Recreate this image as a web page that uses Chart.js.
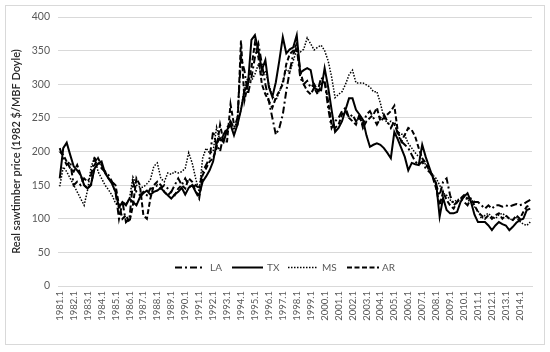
<!DOCTYPE html>
<html>
<head>
<meta charset="utf-8">
<script src="https://cdn.jsdelivr.net/npm/chart.js@4.4.1/dist/chart.umd.min.js"></script>
<style>
html,body{margin:0;padding:0;background:#fff;}
#wrap{position:relative;width:550px;height:352px;}
</style>
</head>
<body>
<div id="wrap"><canvas id="c" width="550" height="352"></canvas></div>
<script>
// Quarterly categories 1981.1 .. 2014.4
const years = [];
for (let y = 1981; y <= 2014; y++) years.push(y);
const categories = [];
years.forEach(y => { for (let q = 1; q <= 4; q++) categories.push(y + '.' + q); });

const yTicks = [0, 50, 100, 150, 200, 250, 300, 350, 400];

const LA = [
 205,190,180,185, 150,155,150,160, 155,165,190,185, 175,170,165,155,
 140,100,125,95, 100,155,140,135, 140,135,145,145, 150,145,150,145,
 140,150,160,150, 160,150,145,150, 145,170,180,190, 230,210,200,225,
 235,245,235,250, 340,320,285,310, 340,360,330,300, 275,250,225,235,
 255,290,320,345, 355,310,300,305, 295,300,290,310, 305,265,235,245,
 250,260,265,250, 255,245,250,240, 255,260,250,240, 250,255,245,235,
 245,225,215,210, 205,195,185,180, 185,175,170,165, 150,135,155,160,
 135,120,125,130, 125,120,130,125, 125,120,115,120, 115,120,120,118,
 120,118,120,122, 120,122,125,128
];
const TX = [
 160,205,213,195, 178,172,165,150, 145,152,175,182, 185,168,160,152,
 140,117,125,120, 130,125,120,132, 138,142,136,140, 142,146,140,135,
 130,136,140,146, 136,146,150,140, 135,155,163,172, 185,212,220,214,
 232,240,224,240, 262,290,300,366, 373,350,321,336, 296,281,303,335,
 370,346,352,355, 373,317,321,324, 321,294,292,291, 324,296,262,229,
 235,245,262,279, 279,262,255,247, 224,207,210,212, 210,205,198,190,
 229,218,205,192, 172,183,181,180, 210,192,177,162, 153,103,131,113,
 108,108,110,125, 133,138,125,106, 95,95,95,90, 83,90,95,92,
 90,83,88,94, 98,100,113,115
];
const MS = [
 148,177,170,160, 150,140,130,120, 143,177,192,170, 160,150,143,135,
 123,118,125,122, 130,162,150,147, 147,152,158,178, 183,160,155,168,
 166,170,168,170, 175,198,183,160, 140,190,205,198, 200,236,215,225,
 230,245,232,242, 262,295,310,305, 315,330,312,320, 300,282,276,288,
 305,322,318,335, 351,348,352,369, 360,351,355,358, 350,335,311,280,
 285,289,300,314, 321,302,302,302, 299,296,289,289, 272,250,242,245,
 240,229,226,224, 212,205,198,192, 190,180,172,165, 160,150,138,135,
 128,125,128,130, 132,128,125,118, 112,100,105,108, 103,100,106,108,
 104,100,98,102, 96,92,90,95
];
const AR = [
 200,195,185,175, 170,180,165,150, 145,150,180,190, 180,170,160,155,
 150,120,100,105, 95,120,160,150, 105,100,130,150, 155,150,140,135,
 140,135,145,150, 145,160,155,140, 130,165,175,185, 190,205,240,215,
 215,270,240,240, 365,276,300,325, 361,340,300,285, 275,265,280,290,
 300,330,345,350, 360,320,300,290, 285,295,285,300, 305,275,240,235,
 240,255,260,250, 245,240,255,235, 245,250,255,265, 245,250,255,260,
 268,230,215,225, 235,232,222,205, 190,183,172,162, 145,120,140,128,
 120,115,125,130, 135,130,130,120, 110,105,100,105, 100,105,108,100,
 105,100,98,105, 100,110,118,120
];

const seriesNames = ['LA', 'TX', 'MS', 'AR'];
const FONT = 'Lato, "Liberation Sans", sans-serif';
const GRAY = '#595959';

const frame = {
  id: 'frame',
  beforeDraw(chart) {
    const ctx = chart.ctx;
    ctx.save();
    ctx.fillStyle = '#fff';
    ctx.fillRect(0, 0, chart.width, chart.height);
    ctx.strokeStyle = '#d9d9d9';
    ctx.lineWidth = 1;
    ctx.strokeRect(5.5, 5.5, 539, 339);
    ctx.restore();
  }
};

const innerLegend = {
  id: 'innerLegend',
  afterDatasetsDraw(chart) {
    const ctx = chart.ctx;
    const y = 267.5;
    const items = [
      {x0: 175, x1: 203, tx: 210},
      {x0: 232, x1: 263, tx: 267},
      {x0: 288, x1: 318, tx: 322},
      {x0: 347, x1: 379, tx: 382}
    ];
    ctx.save();
    ctx.fillStyle = '#fff';
    ctx.fillRect(170, 259, 228, 17);
    chart.data.datasets.forEach((ds, i) => {
      const it = items[i];
      ctx.strokeStyle = ds.borderColor;
      ctx.lineWidth = ds.borderWidth;
      ctx.setLineDash(ds.borderDash || []);
      ctx.beginPath();
      ctx.moveTo(it.x0, y);
      ctx.lineTo(it.x1, y);
      ctx.stroke();
      ctx.setLineDash([]);
      ctx.fillStyle = GRAY;
      ctx.font = '10px ' + FONT;
      ctx.textBaseline = 'middle';
      ctx.textAlign = 'left';
      ctx.fillText(ds.label, it.tx, y);
    });
    ctx.restore();
  }
};

new Chart(document.getElementById('c'), {
  type: 'line',
  data: {
    labels: categories,
    datasets: [
      {label: seriesNames[0], data: LA, borderColor: '#000', borderWidth: 2, borderDash: [7, 3, 2, 3], pointRadius: 0, fill: false, tension: 0},
      {label: seriesNames[1], data: TX, borderColor: '#000', borderWidth: 2, borderDash: [], pointRadius: 0, fill: false, tension: 0},
      {label: seriesNames[2], data: MS, borderColor: '#000', borderWidth: 1.5, borderDash: [1.5, 1.5], pointRadius: 0, fill: false, tension: 0},
      {label: seriesNames[3], data: AR, borderColor: '#000', borderWidth: 2, borderDash: [5, 2.5], pointRadius: 0, fill: false, tension: 0}
    ]
  },
  options: {
    responsive: false,
    animation: false,
    devicePixelRatio: 1,
    layout: {padding: {left: 10, right: 18, top: 17, bottom: 0}},
    plugins: {legend: {display: false}, tooltip: {enabled: false}},
    scales: {
      x: {
        type: 'category',
        offset: true,
        grid: {display: false, drawTicks: false},
        border: {display: true, color: '#d9d9d9'},
        ticks: {
          autoSkip: false, maxRotation: 90, minRotation: 90, padding: 5,
          color: GRAY, font: {family: FONT, size: 9.5},
          callback: function(v, i) { return i % 4 === 0 ? categories[i] : ''; }
        },
        afterFit(s) { s.height = 66; }
      },
      y: {
        min: 0, max: 400,
        afterBuildTicks(s) { s.ticks = yTicks.map(v => ({value: v})); },
        grid: {color: '#d9d9d9', drawTicks: false},
        border: {display: false},
        ticks: {color: GRAY, font: {family: FONT, size: 10.5}, padding: 8},
        title: {display: true, text: 'Real sawtimber price (1982 $/MBF Doyle)', color: '#262626', font: {family: FONT, size: 11, weight: '600'}, padding: {top: 0, bottom: 4}},
        afterFit(s) { s.width = 48; }
      }
    }
  },
  plugins: [frame, innerLegend]
});
</script>
</body>
</html>
